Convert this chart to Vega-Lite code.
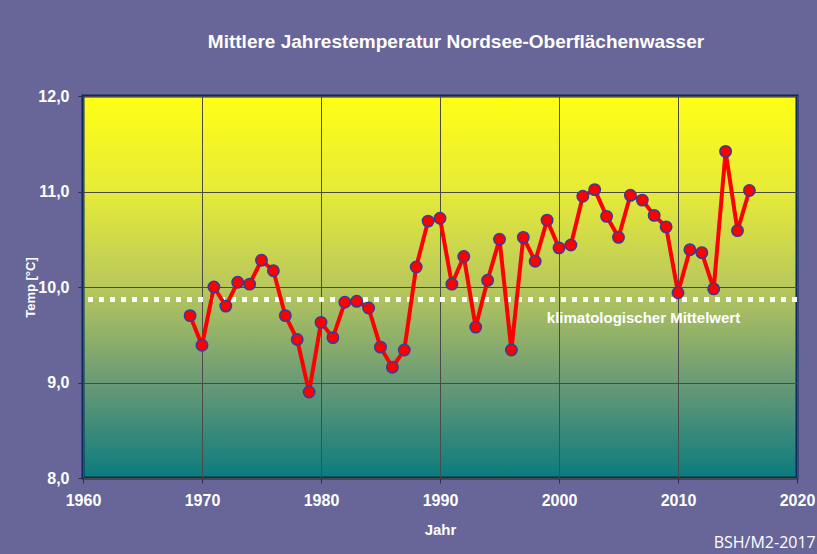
{
  "$schema": "https://vega.github.io/schema/vega-lite/v6.json",
  "width": 714,
  "height": 382,
  "autosize": "none",
  "padding": {"left": 83, "top": 96, "right": 20, "bottom": 76},
  "background": "#686699",
  "title": {
    "text": "Mittlere Jahrestemperatur Nordsee-Oberflächenwasser",
    "font": "Liberation Sans",
    "fontSize": 19,
    "fontWeight": "bold",
    "color": "white",
    "anchor": "middle",
    "dx": 16,
    "offset": 36
  },
  "config": {
    "view": {
      "fill": {"gradient": "linear", "x1": 0, "y1": 0, "x2": 0, "y2": 1,
        "stops": [
          {"offset": 0, "color": "#ffff14"},
          {"offset": 0.25, "color": "#e6eb38"},
          {"offset": 0.5, "color": "#b8c85c"},
          {"offset": 0.75, "color": "#6a9a76"},
          {"offset": 1, "color": "#0b7b7e"}
        ]},
      "stroke": "#0d2a5a",
      "strokeWidth": 3
    },
    "axis": {
      "labelFont": "Liberation Sans",
      "labelFontWeight": "bold",
      "labelFontSize": 16,
      "labelColor": "white",
      "labelFlush": false,
      "labelOverlap": false,
      "titleFont": "Liberation Sans",
      "titleFontWeight": "bold",
      "titleColor": "white",
      "grid": true,
      "gridColor": "#4a4a4a",
      "gridOpacity": 1,
      "gridWidth": 1,
      "domain": false,
      "tickColor": "#2a2a55",
      "tickSize": 5
    }
  },
  "data": {
    "values": [
      {"Jahr": 1969, "Temp": 9.70},
      {"Jahr": 1970, "Temp": 9.39},
      {"Jahr": 1971, "Temp": 10.00},
      {"Jahr": 1972, "Temp": 9.80},
      {"Jahr": 1973, "Temp": 10.05},
      {"Jahr": 1974, "Temp": 10.03},
      {"Jahr": 1975, "Temp": 10.28},
      {"Jahr": 1976, "Temp": 10.17},
      {"Jahr": 1977, "Temp": 9.70},
      {"Jahr": 1978, "Temp": 9.45},
      {"Jahr": 1979, "Temp": 8.90},
      {"Jahr": 1980, "Temp": 9.63},
      {"Jahr": 1981, "Temp": 9.47},
      {"Jahr": 1982, "Temp": 9.84},
      {"Jahr": 1983, "Temp": 9.85},
      {"Jahr": 1984, "Temp": 9.78},
      {"Jahr": 1985, "Temp": 9.37},
      {"Jahr": 1986, "Temp": 9.16},
      {"Jahr": 1987, "Temp": 9.34},
      {"Jahr": 1988, "Temp": 10.21},
      {"Jahr": 1989, "Temp": 10.69},
      {"Jahr": 1990, "Temp": 10.72},
      {"Jahr": 1991, "Temp": 10.03},
      {"Jahr": 1992, "Temp": 10.32},
      {"Jahr": 1993, "Temp": 9.58},
      {"Jahr": 1994, "Temp": 10.07},
      {"Jahr": 1995, "Temp": 10.50},
      {"Jahr": 1996, "Temp": 9.34},
      {"Jahr": 1997, "Temp": 10.52},
      {"Jahr": 1998, "Temp": 10.27},
      {"Jahr": 1999, "Temp": 10.70},
      {"Jahr": 2000, "Temp": 10.41},
      {"Jahr": 2001, "Temp": 10.44},
      {"Jahr": 2002, "Temp": 10.95},
      {"Jahr": 2003, "Temp": 11.02},
      {"Jahr": 2004, "Temp": 10.74},
      {"Jahr": 2005, "Temp": 10.52},
      {"Jahr": 2006, "Temp": 10.96},
      {"Jahr": 2007, "Temp": 10.91},
      {"Jahr": 2008, "Temp": 10.75},
      {"Jahr": 2009, "Temp": 10.63},
      {"Jahr": 2010, "Temp": 9.94},
      {"Jahr": 2011, "Temp": 10.39},
      {"Jahr": 2012, "Temp": 10.36},
      {"Jahr": 2013, "Temp": 9.98},
      {"Jahr": 2014, "Temp": 11.42},
      {"Jahr": 2015, "Temp": 10.59},
      {"Jahr": 2016, "Temp": 11.01}
    ]
  },
  "encoding": {
    "x": {
      "field": "Jahr", "type": "quantitative",
      "scale": {"domain": [1960, 2020], "nice": false, "zero": false},
      "axis": {"values": [1960, 1970, 1980, 1990, 2000, 2010, 2020], "format": "d", "labelPadding": 9, "title": "Jahr", "titleFontSize": 15, "titlePadding": 14}
    },
    "y": {
      "field": "Temp", "type": "quantitative",
      "scale": {"domain": [8, 12], "nice": false, "zero": false},
      "axis": {"values": [8, 9, 10, 11, 12], "labelExpr": "replace(format(datum.value, '.1f'), '.', ',')", "labelPadding": 9, "title": "Temp [°C]", "titleFontSize": 13, "titlePadding": 0}
    }
  },
  "layer": [
    {
      "data": {"values": [{"Mittelwert": 9.87}]},
      "mark": {"type": "rule", "color": "white", "strokeWidth": 5, "strokeDash": [5, 6], "strokeCap": "butt"},
      "encoding": {"y": {"field": "Mittelwert", "type": "quantitative"}, "x": null}
    },
    {
      "data": {"values": [{"label": "klimatologischer Mittelwert", "Jahr": 2007.1, "Temp": 9.68}]},
      "mark": {"type": "text", "font": "Liberation Sans", "fontWeight": "bold", "fontSize": 15, "color": "white", "align": "center", "baseline": "middle"},
      "encoding": {"text": {"field": "label"}}
    },
    {
      "mark": {"type": "line", "color": "#ff0000", "strokeWidth": 4}
    },
    {
      "mark": {"type": "point", "filled": true, "fill": "#ff0000", "stroke": "#3a3a9a", "strokeWidth": 1.5, "size": 130, "shape": "circle", "opacity": 1}
    },
    {
      "data": {"values": [{"label": "BSH/M2-2017", "Jahr": 2013.0, "Temp": 7.32}]},
      "mark": {"type": "text", "font": "Open Sans", "fontSize": 16, "color": "white", "align": "left", "baseline": "middle"},
      "encoding": {"text": {"field": "label"}}
    }
  ]
}
